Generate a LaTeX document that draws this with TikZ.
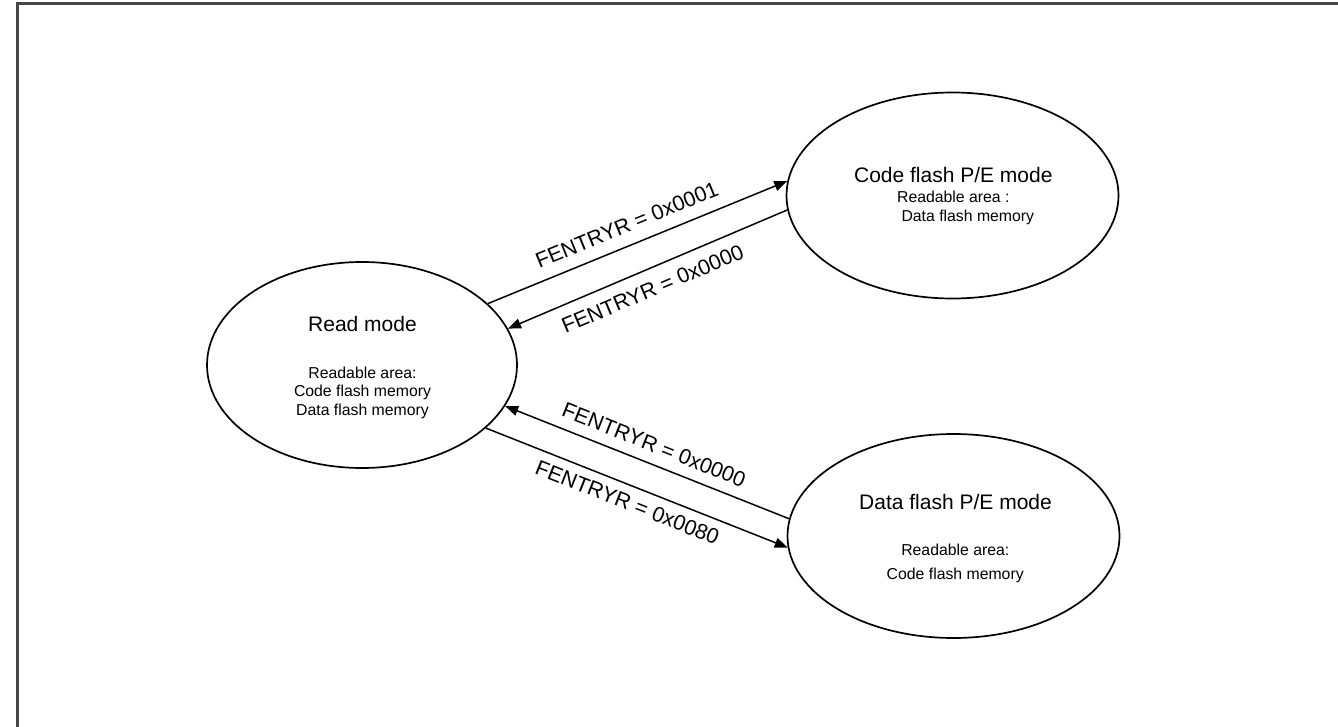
\documentclass[tikz,border=0pt]{standalone}
\usepackage{fontspec}
\setmainfont{Liberation Sans}
\usetikzlibrary{shapes.geometric,arrows.meta}
\begin{document}
\begin{tikzpicture}[x=1pt,y=-1pt,
  state/.style={draw=black, line width=1.7pt, ellipse, inner sep=0pt},
  conn/.style={line width=1.5pt, draw=black},
  fwd/.style={-{Triangle[length=13pt,width=10pt]}},
  bwd/.style={{Triangle[length=13pt,width=10pt]}-},
  lab/.style={font=\fontsize{21.4pt}{24pt}\selectfont, inner sep=0pt, sloped, text=black},
  ttl/.style={font=\fontsize{21pt}{24pt}\selectfont, inner sep=0pt, anchor=base, text=black},
  sub/.style={font=\fontsize{15.8pt}{18pt}\selectfont, inner sep=0pt, anchor=base, text=black},
  frame/.style={draw=black!72, line width=2.4pt}]
\useasboundingbox (0,0) rectangle (1338,727);
\coordinate (fbl) at (17.5,730);
\coordinate (ftl) at (17.5,3.7);
\coordinate (ftr) at (1340,3.7);
\draw[frame] (fbl) -- (ftl) -- (ftr);

\node[state, minimum width=310pt, minimum height=206pt] (read) at (362,365) {};
\node[state, minimum width=332pt, minimum height=206pt] (code) at (952.5,195.5) {};
\node[state, minimum width=332pt, minimum height=204pt] (data) at (953.5,536) {};

\node[ttl] (readT) at (362.5,331) {Read mode};
\node[sub] (readS1) at (362.5,378.3) {Readable area:};
\node[sub] (readS2) at (362.5,396.7) {Code flash memory};
\node[sub] (readS3) at (362.5,415.7) {Data flash memory};

\node[ttl] (codeT) at (953.3,182.3) {Code flash P/E mode};
\node[sub] (codeS1) at (953.3,202.3) {Readable area :};
\node[sub] (codeS2) at (967.8,222) {Data flash memory};

\node[ttl] (dataT) at (955.5,509.3) {Data flash P/E mode};
\node[sub] (dataS1) at (955.3,555.3) {Readable area:};
\node[sub] (dataS2) at (955.2,579.3) {Code flash memory};

\draw[conn, fwd] (read.26.7) -- node[lab, pos=0.49, above=12pt] {FENTRYR = 0x0001} (code.175.5);
\draw[conn, bwd] (read.14.6) -- node[lab, pos=0.49, below=11.6pt] {FENTRYR = 0x0000} (code.185.2);
\draw[conn, bwd] (read.344.6) -- node[lab, pos=0.5, above=10.5pt] {FENTRYR = 0x0000} (data.174.2);
\draw[conn, fwd] (read.333.3) -- node[lab, pos=0.49, below=8.7pt] {FENTRYR = 0x0080} (data.184.8);
\end{tikzpicture}
\end{document}
